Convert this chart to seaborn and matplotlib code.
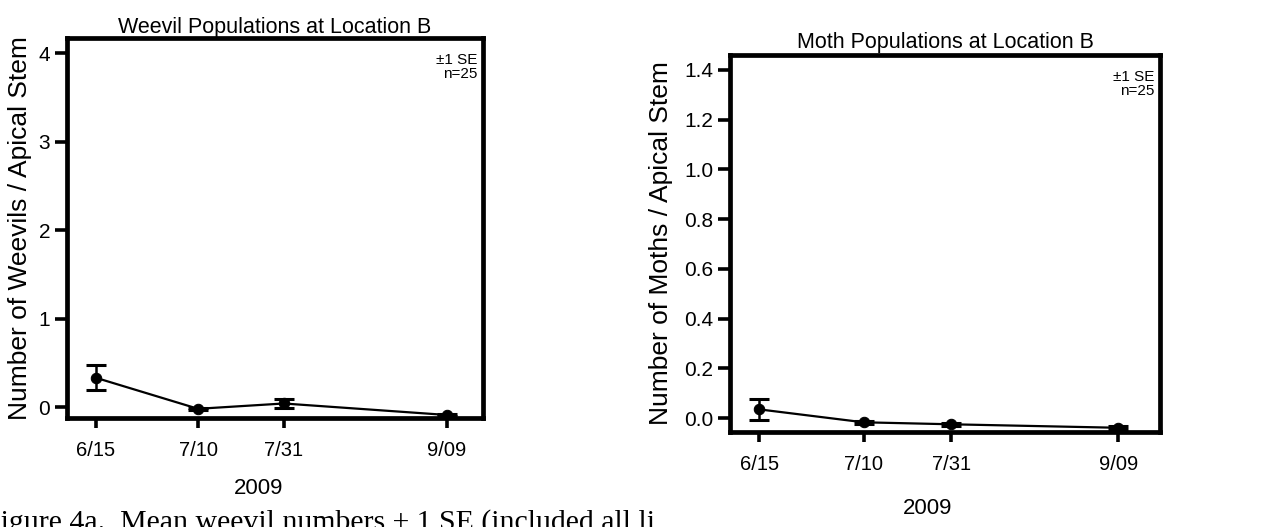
import numpy as np
import pandas as pd
import matplotlib
matplotlib.use("Agg")
import matplotlib.pyplot as plt
import seaborn as sns

# ---- data ----
dates = ["6/15", "7/10", "7/31", "9/09"]
year = 2009
weevil_mean = [0.33, -0.02, 0.04, -0.09]
weevil_se = [0.14, 0.01, 0.056, 0.01]
moth_mean = [0.035, -0.017, -0.025, -0.039]
moth_se = [0.042, 0.006, 0.006, 0.006]
weevil_yticks = [0, 1, 2, 3, 4]
moth_yticks = [0.0, 0.2, 0.4, 0.6, 0.8, 1.0, 1.2, 1.4]
note_text = "±1 SE\nn=25"
caption = "Figure 4a.  Mean weevil numbers ± 1 SE (included all li"

sns.set_theme(style="ticks")
plt.rcParams['font.family'] = ['Liberation Sans', 'DejaVu Sans']

dt = pd.to_datetime([f"{year}/{d}" for d in dates], format="%Y/%m/%d")
days = np.array([(d - dt[0]).days for d in dt], dtype=float)

fig = plt.figure(figsize=(12.64, 5.27), dpi=100)
W, H = 1264, 527

def make_ax(l, r, t, b):
    return fig.add_axes([l / W, 1 - b / H, (r - l) / W, (b - t) / H])

axL = make_ax(67, 483, 38, 418)
axR = make_ax(730, 1160, 55, 432)

def draw(ax, mean, se, yticks, ylim, xpad, title, ylabel, fmt, ylab_x, xlab_y, xlab_x, title_pad):
    df = pd.DataFrame({"day": days, "mean": mean})
    ax.errorbar(days, mean, yerr=se, fmt='none', ecolor='black',
                elinewidth=1.8, capsize=7.5, capthick=2.2, zorder=3)
    sns.lineplot(data=df, x="day", y="mean", ax=ax, color='black', marker='o',
                 markersize=7.5, linewidth=1.6, markeredgecolor='black', zorder=4)
    ax.set_xlim(days[0] - xpad[0], days[-1] + xpad[1])
    ax.set_ylim(*ylim)
    ax.set_xticks(days)
    ax.set_xticklabels(dates)
    ax.set_yticks(yticks)
    ax.set_yticklabels([fmt.format(v) for v in yticks])
    for s in ax.spines.values():
        s.set_visible(True)
        s.set_linewidth(3.4)
        s.set_color('black')
    ax.tick_params(axis='y', direction='out', length=9, width=2.6, colors='black',
                   labelsize=15, pad=3, left=True)
    ax.tick_params(axis='x', direction='out', length=7.5, width=2.6, colors='black',
                   labelsize=14.5, pad=9, bottom=True)
    ax.set_title(title, fontsize=15.5, pad=title_pad, color='black')
    ax.set_ylabel(ylabel, fontsize=19, color='black')
    ax.yaxis.set_label_coords(ylab_x, 0.5)
    ax.set_xlabel(str(year), fontsize=16, color='black', va='top')
    ax.xaxis.set_label_coords(xlab_x, xlab_y)
    ax.text(0.987, 0.96, note_text, transform=ax.transAxes, ha='right', va='top',
            fontsize=11, linespacing=1.0, color='black')
    ax.grid(False)

draw(axL, weevil_mean, weevil_se, weevil_yticks, (-0.124, 4.17), (7.1, 8.8),
     "Weevil Populations at Location B", "Number of Weevils / Apical Stem", "{:d}",
     -0.084, -0.158, 0.4615, 3.6)
draw(axR, moth_mean, moth_se, moth_yticks, (-0.056, 1.46), (7.0, 10.0),
     "Moth Populations at Location B", "Number of Moths / Apical Stem", "{:.1f}",
     -0.133, -0.175, 0.46, 5)

fig.text(-16 / W, -3 / H, caption, ha='left', va='baseline', fontsize=21.5,
         family=['Liberation Serif', 'DejaVu Serif'], color='black')

fig.savefig("out.png", dpi=100, facecolor='white')
